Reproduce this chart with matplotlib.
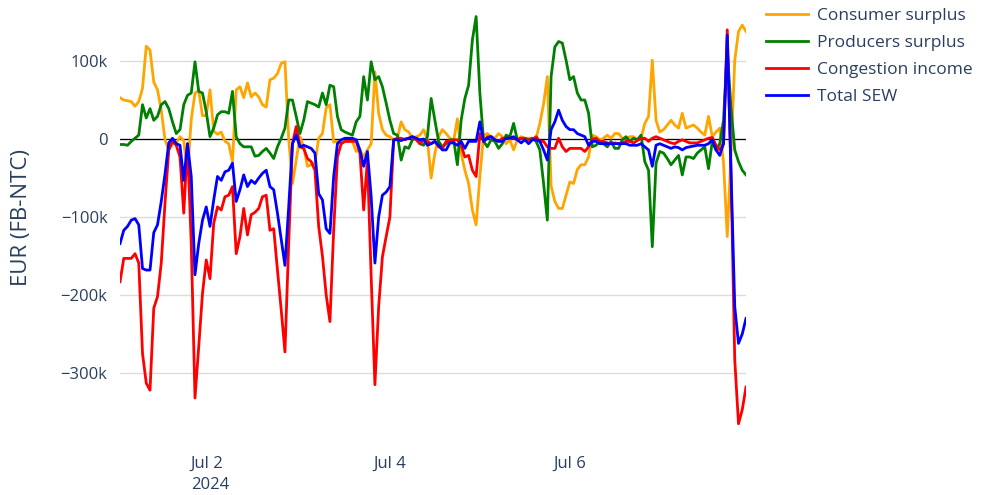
import numpy as np
import pandas as pd
import matplotlib
matplotlib.use("Agg")
import matplotlib.pyplot as plt
from matplotlib.ticker import FuncFormatter

# hourly values, thousands of EUR, Jul 1 00:00 .. Jul 7 23:00
consumer = [
    53, 50, 49, 48, 42, 48, 65, 119, 114, 73, 63, 37, -1, -14, -6, -5, 3, -2, -45, 25, 59, 62, 30, 30, 63, 10, 6, 9,
    -3, -6, -29, 63, 67, 53, 72, 54, 59, 54, 44, 41, 76, 78, 84, 97, 99, 0, -57, -27, 3, -10, -35, -33, -31, 1, 7, 40,
    44, -4, -3, -6, -3, -3, -3, -16, -14, -23, -14, -6, 86, 33, 12, 5, 3, -1, 1, 22, 12, 9, 1, 3, 5, 12, -1, -50,
    -18, 3, 12, 7, 1, -3, 26, -18, -40, -57, -91, -110, -48, 5, 7, 3, 1, 7, 3, -6, -1, -14, -1, 3, 1, 1, 1, 1,
    20, 45, 80, -60, -80, -89, -89, -72, -55, -57, -39, -33, -33, -23, 5, 3, -1, 1, 5, 1, 7, 7, 1, 1, 3, 3, -1, 1,
    20, 29, 101, 24, 9, 12, 18, 24, 18, 14, 33, 14, 16, 18, 14, 9, 5, 29, 3, 9, 14, -30, -125, -20, 101, 138, 146, 138,
]
producers = [
    -7, -7, -8, -3, 1, 5, 44, 27, 39, 24, 29, 44, 48, 39, 22, 7, 12, 44, 56, 59, 99, 61, 59, 35, 3, 14, 31, 35,
    35, 33, 61, 3, -6, -10, -10, -10, -22, -21, -16, -12, -18, -25, -10, 1, 14, 50, 50, 29, 7, 24, 48, 46, 44, 41, 59, 44,
    69, 67, 29, 12, 9, 7, 5, 22, 29, 80, 50, 99, 76, 80, 67, 46, 24, 7, 5, -27, -10, -12, -1, 1, -6, -8, 3, 52,
    24, -3, -10, -6, -1, -1, -33, 24, 52, 69, 127, 157, 59, -3, -10, -1, -3, -12, -6, 5, 3, 20, -1, 1, 1, -1, 1, -3,
    -14, -57, -104, 80, 118, 125, 123, 101, 76, 80, 59, 50, 50, 33, -10, -8, -3, -6, -10, -3, -12, -12, -1, 3, -3, 1, -1, 5,
    -29, -40, -138, -31, -16, -18, -25, -33, -27, -21, -46, -23, -23, -25, -18, -14, -10, -38, -3, -14, -6, 24, 114, 40, -14, -29, -40, -46,
]
congestion = [
    -183, -153, -153, -153, -147, -159, -275, -313, -322, -217, -202, -159, -82, -14, -3, -8, -23, -95, -6, -134, -332, -266, -198, -155, -179, -108, -87, -91,
    -74, -72, -61, -147, -125, -89, -123, -97, -94, -89, -74, -72, -117, -115, -168, -219, -273, -134, -6, 16, -10, -12, -25, -29, -40, -112, -150, -200,
    -234, -117, -23, -6, -3, -3, -3, -3, -18, -91, -27, -176, -315, -215, -151, -125, -100, -1, 1, 1, -1, 1, 3, -1, -6, -1, -3, -6,
    -3, -10, -12, -3, -3, -1, -1, -8, -23, -21, -40, -48, 7, -3, 3, 3, -1, -3, 1, 1, 1, 1, -1, 1, -1, -1, -1, 3,
    -3, -3, -10, -12, -12, 1, -10, -16, -12, -12, -12, -12, -16, -10, 0, 1, -3, -3, -5, -6, -5, -6, -5, -3, -3, -5, -2, 1,
    1, -3, 1, 3, 1, -1, -3, -5, -6, -3, -1, -3, -5, -5, -5, -3, -1, 1, 2, -8, -14, -6, 140, -44, -283, -365, -347, -318,
]
total_sew = [
    -134, -117, -112, -104, -102, -110, -166, -168, -168, -120, -110, -80, -45, -5, 1, -6, -8, -53, -6, -48, -174, -134, -104, -87, -112, -78, -48, -53,
    -42, -40, -31, -80, -65, -46, -61, -53, -57, -50, -44, -40, -61, -65, -95, -129, -162, -87, -6, 5, -10, -8, -10, -12, -18, -70, -78, -115,
    -121, -48, -6, -1, 1, 1, 1, -1, -14, -35, -16, -74, -159, -100, -72, -68, -61, -1, -1, -2, 0, 1, 3, 1, -1, 0, -8, -6,
    -3, -8, -14, -14, -5, -5, -8, -3, -12, -3, -3, -3, 22, -3, 1, 3, -1, -3, -3, 1, 1, 3, -1, -5, -1, -6, -1, -1,
    -3, -14, -27, 12, 22, 37, 24, 16, 12, 12, 7, 5, 3, -8, -3, -3, -6, -6, -6, -6, -6, -6, -6, -6, -8, -8, -8, -6,
    -10, -14, -35, -8, -6, -8, -10, -12, -10, -11, -14, -11, -10, -9, -8, -8, -8, -6, -1, -14, -21, -6, 133, -40, -215, -262, -250, -230,
]

series_names = ["Consumer surplus", "Producers surplus", "Congestion income", "Total SEW"]
series_colors = ["orange", "green", "red", "blue"]
tick_dates = ["2024-07-02", "2024-07-04", "2024-07-06"]
tick_labels = ["Jul 2\n2024", "Jul 4", "Jul 6"]

times = pd.date_range("2024-07-01 00:00", periods=len(consumer), freq="h")
df = pd.DataFrame({
    "Consumer surplus": np.array(consumer) * 1000,
    "Producers surplus": np.array(producers) * 1000,
    "Congestion income": np.array(congestion) * 1000,
    "Total SEW": np.array(total_sew) * 1000,
}, index=times)

plt.rcParams["font.family"] = ["Open Sans", "DejaVu Sans"]
text_color = "#2a3f5f"

fig = plt.figure(figsize=(9.83, 4.95), dpi=100)
ax = fig.add_axes([0.1221, 0.1329, 0.6368, 0.8384])

for name, color in zip(series_names, series_colors):
    ax.plot(df.index, df[name], color=color, lw=2.0, label=name, zorder=3)

ax.axhline(0, color="black", lw=0.9, zorder=2)
ax.set_xlim(df.index[0], df.index[-1])
ax.set_ylim(-372000, 160000)

ax.set_yticks([-300000, -200000, -100000, 0, 100000])
ax.yaxis.set_major_formatter(FuncFormatter(
    lambda v, p: "0" if v == 0 else f"{int(v / 1000)}k".replace("-", "\u2212")))
ax.set_xticks(pd.to_datetime(tick_dates))
ax.set_xticklabels(tick_labels, ha="center", multialignment="left", linespacing=1.45)
ax.grid(axis="y", color="#dcdcdc", lw=1.0, zorder=1)
ax.tick_params(length=0, labelsize=12, colors=text_color)
ax.tick_params(axis="y", pad=9)
ax.tick_params(axis="x", pad=19)
for s in ax.spines.values():
    s.set_visible(False)

fig.text(22 / 983, 1 - 218 / 495, "EUR (FB-NTC)", rotation=90, ha="center", va="center",
         fontsize=16, color=text_color)

leg = ax.legend(loc="upper left", bbox_to_anchor=(766 / 983, 1 - 8 / 495), bbox_transform=fig.transFigure,
                frameon=False, fontsize=12.5, handlelength=2.4, handletextpad=0.55,
                labelspacing=0.62, borderaxespad=0, borderpad=0)
for t in leg.get_texts():
    t.set_color(text_color)

fig.savefig("out.png", dpi=100)
